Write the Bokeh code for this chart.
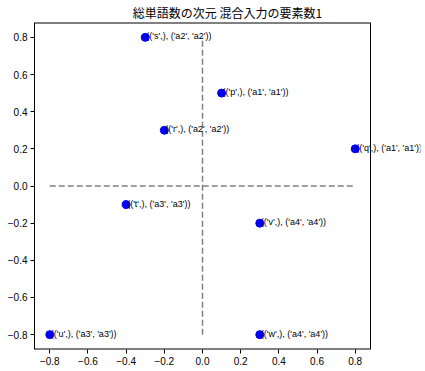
from bokeh.plotting import figure
from bokeh.models import Range1d, FixedTicker, ColumnDataSource
from bokeh.core.properties import value
from bokeh.embed import file_html
from bokeh.resources import INLINE

labels = ["(('p',), ('a1', 'a1'))", "(('q',), ('a1', 'a1'))", "(('r',), ('a2', 'a2'))",
          "(('s',), ('a2', 'a2'))", "(('t',), ('a3', 'a3'))", "(('u',), ('a3', 'a3'))",
          "(('v',), ('a4', 'a4'))", "(('w',), ('a4', 'a4'))"]
xs = [0.1, 0.8, -0.2, -0.3, -0.4, -0.8, 0.3, 0.3]
ys = [0.5, 0.2, 0.3, 0.8, -0.1, -0.8, -0.2, -0.8]
hline_x = [-0.8, 0.8]
hline_y = [0.0, 0.0]
vline_x = [0.0, 0.0]
vline_y = [-0.8, 0.8]
ticks = [-0.8, -0.6, -0.4, -0.2, 0.0, 0.2, 0.4, 0.6, 0.8]
tick_labels = ["\u22120.8", "\u22120.6", "\u22120.4", "\u22120.2", "0.0", "0.2", "0.4", "0.6", "0.8"]
title = "総単語数の次元 混合入力の要素数1"
axis_lo, axis_hi = -0.88, 0.88

FONT = "Noto Sans CJK JP"
TFONT = "Liberation Sans"

BOX_W = 336      # visible axes box width in px
EXT_W = 386      # frame extended to the right so labels can overflow the box
x_end = axis_lo + (axis_hi - axis_lo) * EXT_W / BOX_W

p = figure(width=423, height=363, output_backend="svg", toolbar_location=None,
           x_range=Range1d(axis_lo, x_end), y_range=Range1d(axis_lo, axis_hi),
           frame_width=EXT_W, frame_height=327,
           min_border_left=34, min_border_right=3,
           min_border_top=0, min_border_bottom=0)
p.title.text = title
p.title.align = "center"
p.title.offset = -(EXT_W - BOX_W) / 2
p.title.text_font = FONT
p.title.text_font_size = "12px"
p.title.text_font_style = "normal"
p.title.text_color = "black"
p.title.standoff = 3

p.grid.visible = False
p.outline_line_color = None
overrides = {t: l for t, l in zip(ticks, tick_labels)}
for ax in (p.xaxis, p.yaxis):
    ax.ticker = FixedTicker(ticks=ticks)
    ax.major_label_overrides = overrides
    ax.major_label_text_font = TFONT
    ax.major_label_text_font_size = "10px"
    ax.major_label_text_color = "black"
    ax.minor_tick_line_color = None
    ax.major_tick_out = 4
    ax.major_tick_in = 0
    ax.major_label_standoff = 3
    ax.axis_line_color = "black"
    ax.major_tick_line_color = "black"
p.xaxis.axis_line_color = None

# axes box (top, right, bottom edges)
p.segment(x0=[axis_lo, axis_lo], y0=[axis_hi, axis_lo], x1=[axis_hi, axis_hi], y1=[axis_hi, axis_lo],
          line_color="black", line_width=2)
p.segment(x0=[axis_hi], y0=[axis_lo], x1=[axis_hi], y1=[axis_hi], line_color="black", line_width=1)

p.line(hline_x, hline_y, line_color="gray", line_dash="6 3", line_width=1.5)
p.line(vline_x, vline_y, line_color="gray", line_dash="6 3", line_width=1.5)

src = ColumnDataSource(dict(x=xs, y=ys, label=labels))
p.scatter("x", "y", source=src, size=8, fill_color="blue", line_color="blue")
p.text("x", "y", text="label", source=src, text_font=value(TFONT), text_font_size="9px",
       text_baseline="alphabetic", text_align="left", text_color="black",
       x_offset=1, y_offset=-1)

open("out.html", "w").write(file_html(p, INLINE))
